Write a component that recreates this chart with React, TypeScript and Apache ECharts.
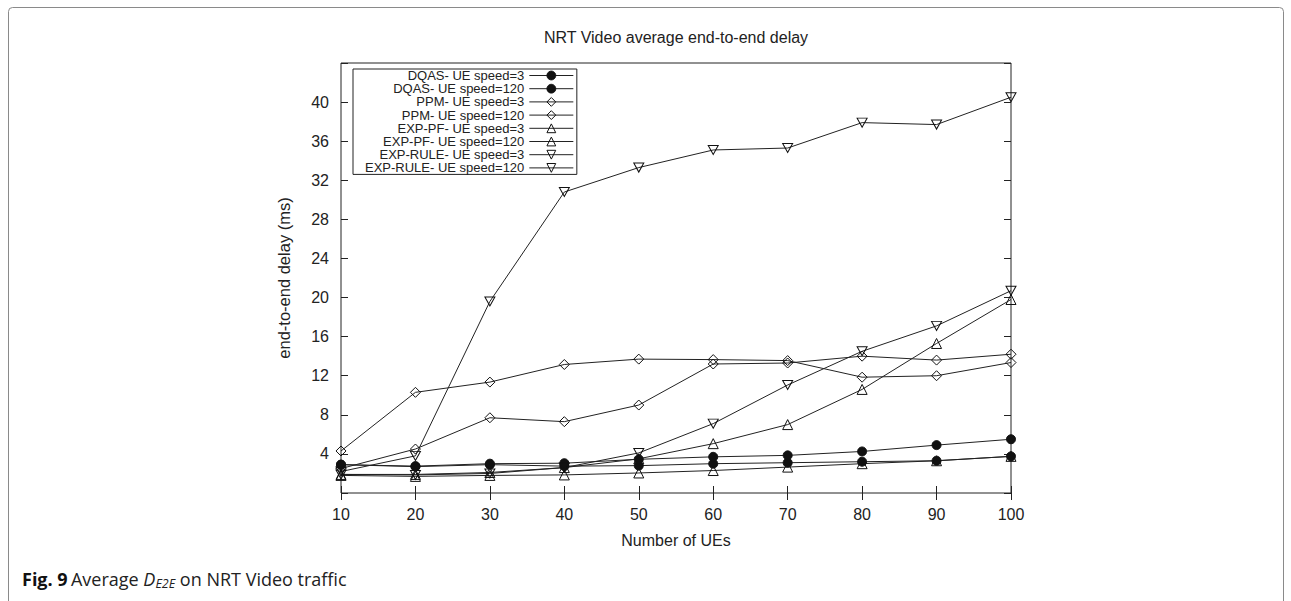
import React, { useEffect, useRef } from "react";
import * as echarts from "echarts";

// Number of UEs on the x axis
const ues = [10, 20, 30, 40, 50, 60, 70, 80, 90, 100];

// Average end-to-end delay (ms) per scheduler and UE speed
const dqas3 = [2.9, 2.7, 2.9, 2.75, 2.8, 3.0, 3.1, 3.2, 3.3, 3.75];
const dqas120 = [2.9, 2.75, 3.0, 3.05, 3.45, 3.7, 3.85, 4.25, 4.9, 5.5];
const ppm3 = [2.5, 4.5, 7.7, 7.3, 9.0, 13.2, 13.3, 14.0, 13.6, 14.2];
const ppm120 = [4.3, 10.3, 11.35, 13.15, 13.7, 13.65, 13.55, 11.85, 12.0, 13.35];
const expPf3 = [1.8, 1.7, 1.8, 1.85, 2.05, 2.3, 2.65, 3.0, 3.3, 3.75];
const expPf120 = [1.9, 1.9, 2.1, 2.6, 3.5, 5.05, 7.0, 10.6, 15.3, 19.8];
const expRule3 = [1.9, 1.85, 2.0, 2.6, 4.1, 7.1, 11.05, 14.5, 17.1, 20.7];
const expRule120 = [2.2, 3.8, 19.6, 30.8, 33.3, 35.1, 35.3, 37.9, 37.7, 40.5];

const yTicks = [4, 8, 12, 16, 20, 24, 28, 32, 36, 40];

const INK = "#222";
const FONT = "'Liberation Sans', Arial, Helvetica, sans-serif";
const CAPTION_FONT = "'Open Sans', 'Noto Sans', sans-serif";
const DOWN_TRIANGLE = "path://M0,0L10,0L5,9Z";

type Marker = { symbol: string; size: number | number[]; filled: boolean };

const circle: Marker = { symbol: "circle", size: 9, filled: true };
const diamond: Marker = { symbol: "diamond", size: 10, filled: false };
const triUp: Marker = { symbol: "triangle", size: 10, filled: false };
const triDown: Marker = { symbol: DOWN_TRIANGLE, size: [10, 9], filled: false };

const seriesDefs: { name: string; values: number[]; marker: Marker }[] = [
  { name: "DQAS- UE speed=3", values: dqas3, marker: circle },
  { name: "DQAS- UE speed=120", values: dqas120, marker: circle },
  { name: "PPM- UE speed=3", values: ppm3, marker: diamond },
  { name: "PPM- UE speed=120", values: ppm120, marker: diamond },
  { name: "EXP-PF- UE speed=3", values: expPf3, marker: triUp },
  { name: "EXP-PF- UE speed=120", values: expPf120, marker: triUp },
  { name: "EXP-RULE- UE speed=3", values: expRule3, marker: triDown },
  { name: "EXP-RULE- UE speed=120", values: expRule120, marker: triDown },
];

export default function App() {
  const ref = useRef<HTMLDivElement>(null);

  useEffect(() => {
    if (!ref.current) return;
    const chart = echarts.init(ref.current, undefined, { renderer: "svg" });

    const tickStyle = { show: true, inside: true, length: 7, lineStyle: { color: INK, width: 1 } };

    const option: echarts.EChartsOption = {
      animation: false,
      backgroundColor: "#fff",
      textStyle: { fontFamily: FONT },
      grid: {
        left: 341,
        right: 280,
        top: 63,
        bottom: 108,
        show: true,
        borderColor: INK,
        borderWidth: 1,
        backgroundColor: "transparent",
      },
      legend: {
        orient: "vertical",
        left: 353,
        top: 69,
        align: "right",
        itemWidth: 44,
        itemHeight: 11,
        itemGap: 0.2,
        padding: [0, 3, 0, 12],
        borderColor: INK,
        borderWidth: 1,
        backgroundColor: "#fff",
        lineStyle: { width: 1 },
        itemStyle: { borderWidth: 1 },
        textStyle: { fontFamily: FONT, fontSize: 13, color: INK, lineHeight: 13 },
        data: seriesDefs.map((s) => s.name),
      },
      xAxis: [
        {
          type: "value",
          min: 10,
          max: 100,
          interval: 10,
          position: "bottom",
          name: "Number of UEs",
          nameLocation: "middle",
          nameGap: 39,
          nameTextStyle: { fontFamily: FONT, fontSize: 16, color: INK },
          axisLine: { show: false },
          axisTick: tickStyle,
          axisLabel: { fontFamily: FONT, fontSize: 16, color: INK, margin: 13 },
          splitLine: { show: false },
        },
        {
          type: "value",
          min: 10,
          max: 100,
          interval: 10,
          position: "top",
          axisLine: { show: false },
          axisTick: tickStyle,
          axisLabel: { show: false },
          splitLine: { show: false },
        },
      ],
      yAxis: [
        {
          type: "value",
          min: 0,
          max: 44,
          interval: 4,
          position: "left",
          name: "end-to-end delay (ms)",
          nameLocation: "middle",
          nameGap: 49,
          nameTextStyle: { fontFamily: FONT, fontSize: 16.5, color: INK },
          axisLine: { show: false },
          axisTick: tickStyle,
          axisLabel: {
            fontFamily: FONT,
            fontSize: 16,
            color: INK,
            margin: 12,
            formatter: (v: number) => (yTicks.includes(v) ? String(v) : ""),
          },
          splitLine: { show: false },
        },
        {
          type: "value",
          min: 0,
          max: 44,
          interval: 4,
          position: "right",
          axisLine: { show: false },
          axisTick: tickStyle,
          axisLabel: { show: false },
          splitLine: { show: false },
        },
      ],
      series: seriesDefs.map((s) => ({
        name: s.name,
        type: "line",
        xAxisIndex: 0,
        yAxisIndex: 0,
        data: ues.map((u, i) => [u, s.values[i]]),
        symbol: s.marker.symbol,
        symbolSize: s.marker.size,
        showAllSymbol: true,
        lineStyle: { color: INK, width: 1 },
        itemStyle: {
          color: s.marker.filled ? "#111" : "rgba(255,255,255,0)",
          borderColor: "#111",
          borderWidth: 1,
        },
        emphasis: { disabled: true },
        z: 2,
      })),
      graphic: [
        {
          type: "rect",
          shape: { x: 8.5, y: 7.5, width: 1275, height: 620, r: 4 },
          style: { fill: "none", stroke: "#8a8a8a", lineWidth: 1 },
          silent: true,
          z: -1,
        },
        {
          type: "text",
          x: 676,
          y: 37,
          style: {
            text: "NRT Video average end-to-end delay",
            fontFamily: FONT,
            fontSize: 16,
            fill: INK,
            align: "center",
            verticalAlign: "middle",
          },
        },
        {
          type: "text",
          left: 22,
          top: 568,
          style: {
            text: "{b|Fig. 9} {n|Average }{i|D}{s|E2E}{n| on NRT Video traffic}",
            rich: {
              b: { fontFamily: CAPTION_FONT, fontSize: 18, fontWeight: "bold", fill: "#111", lineHeight: 23 },
              n: { fontFamily: CAPTION_FONT, fontSize: 18, fill: "#222", lineHeight: 23 },
              i: { fontFamily: CAPTION_FONT, fontSize: 18, fontStyle: "italic", fill: "#222", lineHeight: 23 },
              s: { fontFamily: CAPTION_FONT, fontSize: 12.5, fontStyle: "italic", fill: "#222", lineHeight: 23, padding: [9, 0, 0, 0] },
            },
          },
        },
      ],
    };

    chart.setOption(option);
    return () => chart.dispose();
  }, []);

  return (
    <div
      ref={ref}
      style={{ position: "fixed", left: 0, top: 0, width: 1291, height: 601 }}
    />
  );
}
